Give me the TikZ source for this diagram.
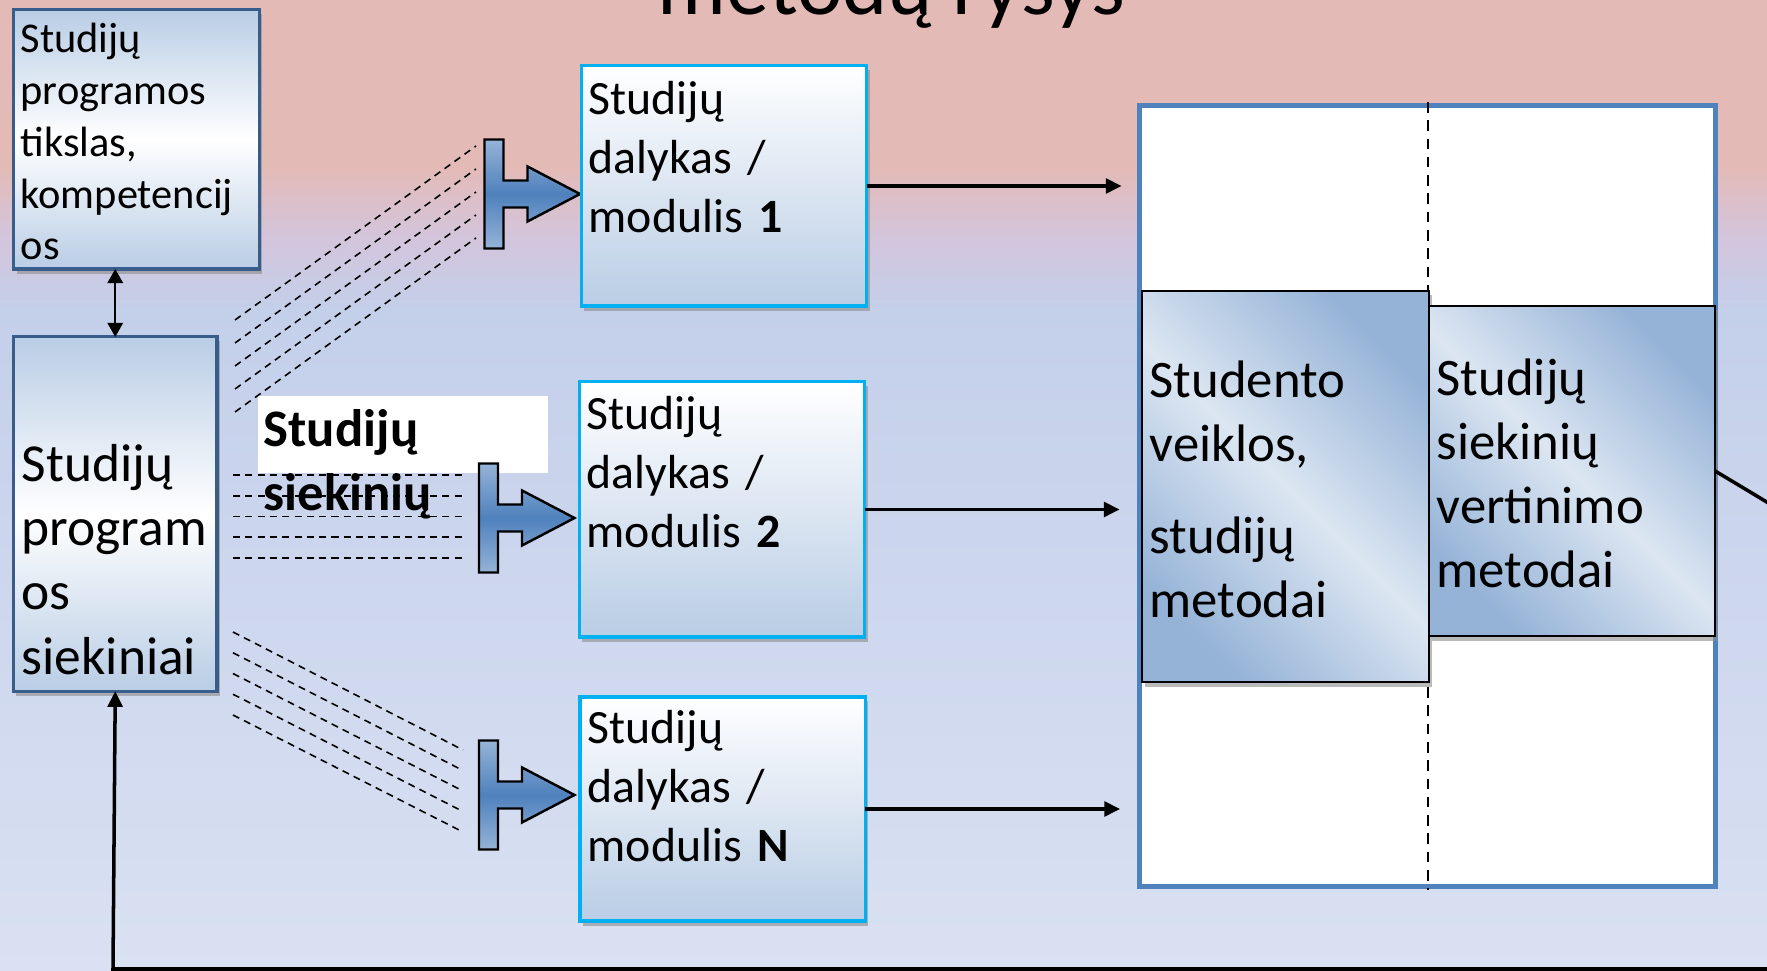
\documentclass[tikz,border=0pt]{standalone}
\usepackage{fontspec}
\setmainfont{Carlito}
\usetikzlibrary{arrows.meta, shadows}

\definecolor{bgpink}{HTML}{E4BAB6}
\definecolor{bglav}{HTML}{D3C5DC}
\definecolor{bgblue}{HTML}{C4CFEA}
\definecolor{bglight}{HTML}{D9E1F2}
\definecolor{boxblue}{HTML}{B9CDE5}
\definecolor{progedge}{HTML}{385D8A}
\definecolor{modedge}{HTML}{00B0F0}
\definecolor{frameedge}{HTML}{4F81BD}
\definecolor{tdark}{HTML}{4F81BD}
\definecolor{tlight}{HTML}{95B3D7}
\definecolor{methdark}{HTML}{95B3D7}
\definecolor{methlight}{HTML}{DCE6F2}

\begin{document}
\begin{tikzpicture}[
  x = 0.01cm,
  y = -0.01cm,
  boxshadow/.style = {
    drop shadow = {shadow xshift = 0.03cm, shadow yshift = -0.045cm,
      fill = black!45, opacity = 0.6}
  },
  progbox/.style = {
    shape = rectangle,
    draw = progedge,
    line width = 0.9pt,
    top color = boxblue, bottom color = boxblue, middle color = white,
    inner sep = 0pt,
    outer sep = 0pt,
    boxshadow
  },
  modbox/.style = {
    shape = rectangle,
    draw = modedge,
    line width = 0.9pt,
    top color = white, bottom color = boxblue,
    minimum width = 2.85cm,
    inner sep = 0pt,
    outer sep = 0pt,
    boxshadow
  },
  framebox/.style = {
    shape = rectangle,
    draw = frameedge,
    fill = white,
    line width = 1.4pt,
    minimum width = 5.75cm,
    minimum height = 7.8cm,
    inner sep = 0pt,
    outer sep = 0pt
  },
  methbox/.style = {
    shape = rectangle,
    draw = black,
    line width = 0.7pt,
    top color = methdark, bottom color = methdark, middle color = methlight,
    shading angle = -45,
    inner sep = 0pt,
    outer sep = 0pt,
    boxshadow
  },
  labelbox/.style = {
    shape = rectangle,
    fill = white,
    minimum width = 2.9cm,
    minimum height = 0.77cm,
    inner sep = 0pt
  },
  txt/.style = {
    anchor = base west,
    inner sep = 0pt,
    align = left
  },
  goaltxt/.style = {txt, text width = 2.4cm, font = {\fontsize{12.06}{14.7}\selectfont}},
  outtxt/.style = {txt, text width = 1.95cm, font = {\fontsize{15.2}{18.2}\selectfont}},
  modtxt/.style = {txt, text width = 2.7cm, font = {\fontsize{13.6}{16.7}\selectfont}},
  methtxt/.style = {txt, text width = 2.7cm, font = {\fontsize{15}{18.2}\selectfont}},
  labeltxt/.style = {txt, text width = 2.8cm, font = {\fontsize{15}{18}\selectfont\bfseries}},
  titletxt/.style = {txt, font = {\fontsize{24.5}{29}\selectfont}},
  hint/.style = {
    draw = black,
    line width = 0.45pt,
    dash pattern = on 2pt off 1.5pt
  },
  divider/.style = {
    draw = black,
    line width = 0.6pt,
    dash pattern = on 3pt off 2.2pt
  },
  tarrow/.style = {
    draw = black,
    line width = 0.7pt,
    top color = tlight, bottom color = tlight, middle color = tdark
  },
  link/.style = {
    draw = black,
    line width = 0.6pt,
    {Triangle[length = 4pt, width = 4.4pt]}-{Triangle[length = 4pt, width = 4.4pt]}
  },
  flow/.style = {
    draw = black,
    line width = 1pt,
    -{Triangle[length = 4.5pt, width = 4.2pt]}
  }
]
  \useasboundingbox (0, 0) rectangle (1767, 971);
  \clip (0, 0) rectangle (1767, 971);

  \fill[bgpink] (0, 0) rectangle (1767, 166);
  \shade[top color = bgpink, bottom color = bgblue, middle color = bglav] (0, 165) rectangle (1767, 310);
  \shade[top color = bgblue, bottom color = bglight] (0, 309) rectangle (1767, 971);

  \node[titletxt] (title) at (657, 15) {metodų ryšys};

  \node[progbox, minimum width = 2.455cm, minimum height = 2.59cm] (goal) at (136.5, 139.5) {};
  \node[goaltxt] (goaltext) at (20, 53) {Studijų\\programos\\tikslas,\\kompetencij\\os};

  \node[progbox, minimum width = 2.035cm, minimum height = 3.54cm] (outcomes) at (115.25, 514) {};
  \node[outtxt] (outtext) at (21, 482) {Studijų\\program\\os\\siekiniai};

  \node[labelbox] (label) at (403, 434.5) {};
  \node[labeltxt] (labeltext) at (263, 447) {Studijų\\siekinių};

  \foreach \k in {0, ..., 4} {
    \draw[hint] (235, 320 + 23*\k) -- (476, 146 + 23*\k);
    \draw[hint] (233, 475 + 20.75*\k) -- (465, 475 + 20.75*\k);
    \draw[hint] (233, 632 + 20.75*\k) -- (463, 750 + 20.5*\k);
  }

  \foreach \cx/\cy in {494/194, 488.5/518, 488.5/795}
    \draw[tarrow] (\cx - 9.5, \cy - 54.5) -- (\cx + 9.5, \cy - 54.5) -- (\cx + 9.5, \cy - 13.5)
      -- (\cx + 33.5, \cy - 13.5) -- (\cx + 33.5, \cy - 27.5) -- (\cx + 86, \cy)
      -- (\cx + 33.5, \cy + 27.5) -- (\cx + 33.5, \cy + 13.5) -- (\cx + 9.5, \cy + 13.5)
      -- (\cx + 9.5, \cy + 54.5) -- (\cx - 9.5, \cy + 54.5) -- cycle;

  \node[modbox, minimum height = 2.4cm] (mod1) at (724, 186) {};
  \node[modtxt] (mod1text) at (588, 115) {Studijų\\dalykas /\\modulis \textbf{1}};
  \node[modbox, minimum height = 2.55cm] (mod2) at (722, 509.5) {};
  \node[modtxt] (mod2text) at (586, 430) {Studijų\\dalykas /\\modulis \textbf{2}};
  \node[modbox, minimum height = 2.24cm] (modN) at (722.5, 809) {};
  \node[modtxt] (modNtext) at (587, 744) {Studijų\\dalykas /\\modulis \textbf{N}};

  \node[framebox] (frame) at (1427.5, 496) {};
  \draw[divider] (1428, 102) -- (1428, 890);

  \node[methbox, minimum width = 2.87cm, minimum height = 3.91cm] (activ) at (1285.5, 486.5) {};
  \node[methtxt] (activtext) at (1149, 398) {Studento\\veiklos,\\[7.7pt]studijų\\metodai};
  \node[methbox, minimum width = 2.86cm, minimum height = 3.3cm] (assess) at (1572, 471) {};
  \node[methtxt] (assesstext) at (1436, 396) {Studijų\\siekinių\\vertinimo\\metodai};

  \coordinate (loopR) at (1800, 522);
  \coordinate (loopL) at (113, 969);

  \draw[link] (outcomes.north |- goal.south) -- (outcomes.north);
  \foreach \m in {mod1, mod2, modN}
    \draw[flow] (\m.east) -- ++(255, 0);
  \draw[flow] (assess.east) -- (loopR) |- (loopL) -- (outcomes.south);
\end{tikzpicture}
\end{document}
